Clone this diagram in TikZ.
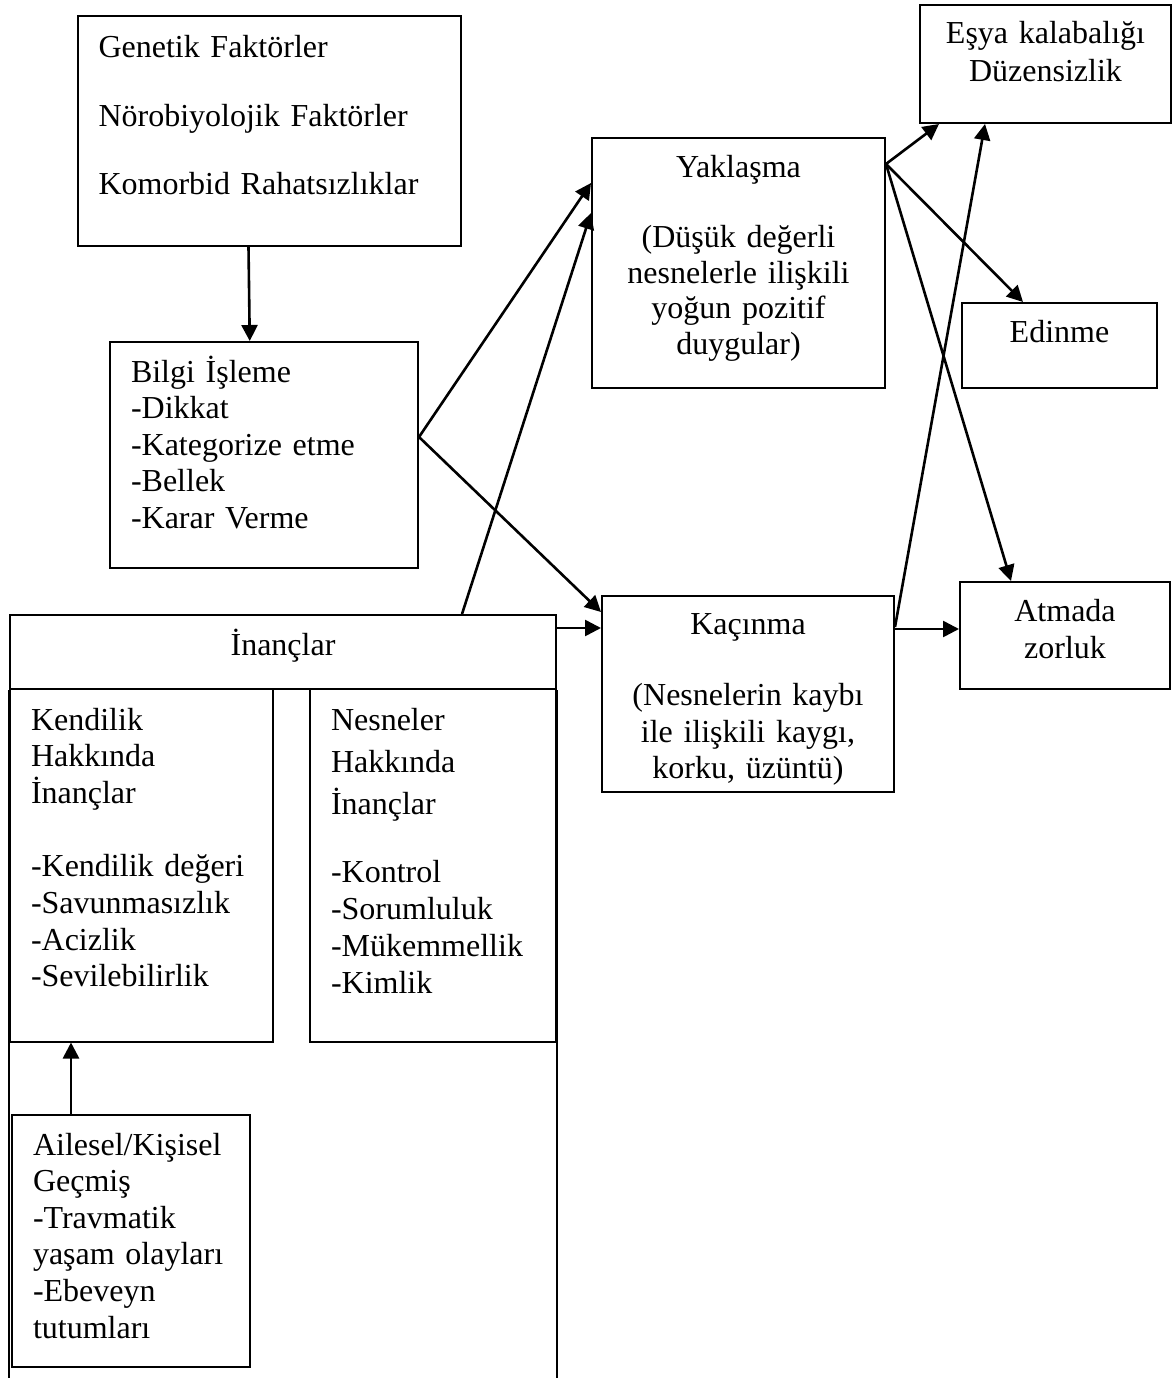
\documentclass[tikz,border=0pt]{standalone}
\usepackage{fontspec}
\setmainfont{Liberation Serif}
\usetikzlibrary{arrows.meta}

\begin{document}
\begin{tikzpicture}[x=1pt,y=-1pt,
    box/.style={draw,line width=2pt,anchor=north west,inner ysep=0pt,inner xsep=21pt,
      align=left,font=\fontsize{32}{36.7}\selectfont},
    cbox/.style={box,inner xsep=10pt,align=center},
    arr/.style={line width=2.6pt,-{Triangle[length=16pt,width=16pt]}}]
  \useasboundingbox (0,0) rectangle (1173,1378);
  \clip (0,0) rectangle (1173,1378);

  \node[box,inner xsep=20.5pt,text width=342pt,text height=42pt,text depth=188pt,
    font=\fontsize{32}{68.5}\selectfont] (gen) at (77,15)
    {Genetik Faktörler\\Nörobiyolojik Faktörler\\Komorbid Rahatsızlıklar};
  \node[box,inner xsep=21.5pt,text width=265.5pt,text height=40pt,text depth=186pt,
    font=\fontsize{32}{36.6}\selectfont] (bilgi) at (108.5,341)
    {Bilgi İşleme\\-Dikkat\\-Kategorize etme\\-Bellek\\-Karar Verme};

  \node[cbox,text width=273pt,text height=39pt,text depth=211pt,
    font=\fontsize{32}{35.5}\selectfont] (yak) at (591,137)
    {Yaklaşma\\[35pt](Düşük değerli\\nesnelerle ilişkili\\yoğun pozitif\\duygular)};
  \node[cbox,text width=272pt,text height=38pt,text depth=158pt,
    font=\fontsize{32}{36.5}\selectfont] (kac) at (601,595)
    {Kaçınma\\[35pt](Nesnelerin kaybı\\ile ilişkili kaygı,\\korku, üzüntü)};

  \node[cbox,text width=231pt,text height=39pt,text depth=79pt,
    font=\fontsize{32}{38}\selectfont] (esya) at (919,4)
    {Eşya kalabalığı\\Düzensizlik};
  \node[cbox,text width=175pt,text height=39pt,text depth=46pt] (edin) at (961,302)
    {Edinme};
  \node[cbox,text width=190pt,text height=39pt,text depth=68pt,
    font=\fontsize{32}{37}\selectfont] (atma) at (959,581)
    {Atmada\\zorluk};

  \node[cbox,text width=526pt,text height=40pt,text depth=34pt] (inanc) at (9,614)
    {İnançlar};
  \draw[line width=2pt] (inanc.south west) -- ++(0,720);
  \draw[line width=2pt] (inanc.south east) -- ++(0,720);

  \node[box,text width=221pt,text height=41pt,text depth=311.5pt] (kendi) at (9,688)
    {Kendilik\\Hakkında\\İnançlar\\[36.7pt]-Kendilik değeri\\-Savunmasızlık\\-Acizlik\\-Sevilebilirlik};
  \node[box,text width=204pt,text height=41pt,text depth=311.5pt,
    font=\fontsize{32}{37}\selectfont] (nesne) at (309,688)
    {Nesneler\\[5pt]Hakkında\\[5pt]İnançlar\\[31pt]-Kontrol\\-Sorumluluk\\-Mükemmellik\\-Kimlik};
  \node[box,text width=196pt,text height=40pt,text depth=212pt,
    font=\fontsize{32}{36.6}\selectfont] (aile) at (11,1114)
    {Ailesel/Kişisel\\Geçmiş\\-Travmatik\\yaşam olayları\\-Ebeveyn\\tutumları};

  \draw[arr] ([xshift=-21pt]gen.south) -- ([xshift=-14pt]bilgi.north);
  \draw[arr] ([yshift=18pt]bilgi.east) -- ([yshift=-46pt]yak.north west);
  \draw[arr] ([yshift=18pt]bilgi.east) -- ([yshift=-17pt]kac.north west);
  \draw[arr] ([xshift=179pt]inanc.north) -- ([yshift=-76pt]yak.north west);
  \draw[arr] ([yshift=-14pt]inanc.north east) -- ([yshift=-33pt]kac.north west);
  \draw[arr] ([yshift=-34pt]kac.north east) -- ([yshift=-48pt]atma.north west);
  \draw[arr] ([yshift=-32pt]kac.north east) -- ([xshift=66pt]esya.south west);
  \draw[arr] ([yshift=-27pt]yak.north east) -- ([xshift=20pt]esya.south west);
  \draw[arr] ([yshift=-27pt]yak.north east) -- ([xshift=62pt]edin.north west);
  \draw[arr] ([yshift=-27pt]yak.north east) -- ([xshift=52pt]atma.north west);
  \draw[arr] ([xshift=60pt]aile.north west) -- ([xshift=62pt]kendi.south west);
\end{tikzpicture}
\end{document}
